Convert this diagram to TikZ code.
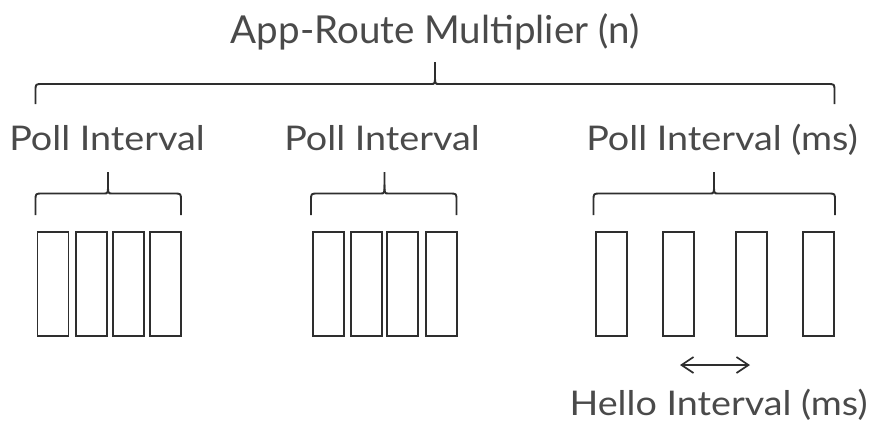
\documentclass[tikz,border=0pt]{standalone}
\usepackage{fontspec}
\setmainfont{Lato}
\newfontfamily\lblfont{Lato}[FakeStretch=1.11]
\newfontfamily\ttlfont{Lato}
\usetikzlibrary{arrows.meta}
\definecolor{ink}{HTML}{2E2E2E}
\definecolor{txt}{HTML}{4A4A4A}
\tikzset{
  slot/.style={draw=ink, line width=1.7pt, minimum width=31pt, minimum height=104pt, inner sep=0pt},
  bracepath/.style={draw=ink, line width=1.9pt, line cap=butt},
  lbl/.style={text=txt, inner sep=0pt, anchor=base, font=\lblfont\fontsize{34}{38}\selectfont},
  ttl/.style={text=txt, inner sep=0pt, anchor=base, font=\ttlfont\fontsize{38.5}{42}\selectfont},
}
\newcommand{\mybrace}[6]{% x1 x2 xc ytop yh ybot
  \draw[bracepath] (#1,#6) -- (#1,#5+7) .. controls (#1,#5) .. (#1+7,#5) -- (#3-4,#5) .. controls (#3,#5) .. (#3,#5-9) -- (#3,#4);
  \draw[bracepath] (#3,#5-9) .. controls (#3,#5) .. (#3+4,#5) -- (#2-7,#5) .. controls (#2,#5) .. (#2,#5+7) -- (#2,#6);
}
\begin{document}
\begin{tikzpicture}[x=1pt,y=-1pt]
\useasboundingbox (0,0) rectangle (873,421);
% title
\node[ttl] (title) at (435,43) {App-Route Multiplier (n)};
\mybrace{35.5}{834.5}{435}{62}{84}{104}
% labels
\node[lbl] (p1) at (107,150) {Poll Interval};
\node[lbl] (p2) at (382,150) {Poll Interval};
\node[lbl] (p3) at (722,150) {Poll Interval (ms)};
\node[lbl] (hello) at (718.5,415) {Hello Interval (ms)};
% braces
\mybrace{35.5}{181}{108}{172}{193.5}{215}
\mybrace{311}{456.5}{384.5}{172}{193.5}{215}
\mybrace{593.5}{835}{714}{172}{193.5}{215}
% slots group 1
\node[slot] (a1) at (53,283.7) {};
\node[slot] (a2) at (91.3,283.7) {};
\node[slot] (a3) at (128.3,283.7) {};
\node[slot] (a4) at (165.7,283.7) {};
% group 2
\node[slot] (b1) at (328.5,283.7) {};
\node[slot] (b2) at (366.7,283.7) {};
\node[slot] (b3) at (402.8,283.7) {};
\node[slot] (b4) at (441.2,283.7) {};
% group 3
\node[slot] (c1) at (611.2,283.7) {};
\node[slot] (c2) at (678.8,283.7) {};
\node[slot] (c3) at (751.2,283.7) {};
\node[slot] (c4) at (818.8,283.7) {};
% hello arrow
\coordinate (ha) at (680,365);
\coordinate (hb) at (750,365);
\draw[draw=ink, line width=1.7pt, {Straight Barb[length=12pt,width=16pt]}-{Straight Barb[length=12pt,width=16pt]}] (ha) -- (hb);
\end{tikzpicture}
\end{document}
